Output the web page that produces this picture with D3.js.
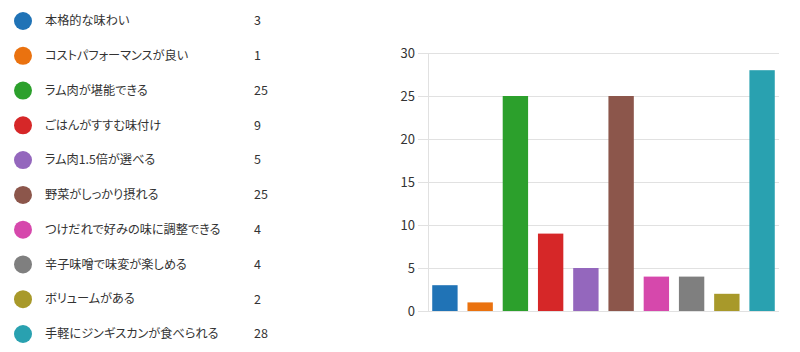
<!DOCTYPE html>
<html><head><meta charset="utf-8">
<script src="https://cdn.jsdelivr.net/npm/d3@7"></script>
<style>body{margin:0;background:#fff;}svg{display:block;}text{font-feature-settings:"palt" 1;}</style>
</head><body>
<svg id="c" width="800" height="352"></svg>
<script>
const categories = ["本格的な味わい","コストパフォーマンスが良い","ラム肉が堪能できる","ごはんがすすむ味付け","ラム肉1.5倍が選べる","野菜がしっかり摂れる","つけだれで好みの味に調整できる","辛子味噌で味変が楽しめる","ボリュームがある","手軽にジンギスカンが食べられる"];
const values = [3,1,25,9,5,25,4,4,2,28];
const colors = ["#2073b6","#ea720f","#2ca02c","#d62728","#9467bd","#8c564b","#d648ac","#7f7f7f","#a8992a","#29a1b0"];
const yTicks = [0,5,10,15,20,25,30];

const svg = d3.select("#c");
const font = "'Noto Sans CJK JP','Noto Sans',sans-serif";

// Legend
const ly = d3.scalePoint().domain(categories).range([21, 334]);
const lg = svg.append("g");
categories.forEach((c,i)=>{
  const y = ly(c);
  lg.append("circle").attr("cx",23).attr("cy",y).attr("r",9).attr("fill",colors[i]);
  lg.append("text").attr("x",45).attr("y",y).attr("dy","0.35em").attr("font-family",font).attr("font-size",12.2).attr("fill","#333").text(c);
  lg.append("text").attr("x",254).attr("y",y).attr("dy","0.35em").attr("font-family",font).attr("font-size",12.5).attr("fill","#333").text(values[i]);
});

// Chart
const x = d3.scaleBand().domain(categories).range([428,779]).paddingInner(0.28).paddingOuter(0.12);
const y = d3.scaleLinear().domain([0,30]).range([311,53]);

const grid = svg.append("g");
grid.selectAll("line").data(yTicks).join("line")
  .attr("x1",418).attr("x2",779).attr("y1",d=>y(d)).attr("y2",d=>y(d))
  .attr("stroke","#e1e1e1").attr("stroke-width",1).attr("shape-rendering","crispEdges");
svg.append("line").attr("x1",428).attr("x2",428).attr("y1",y(30)).attr("y2",y(0))
  .attr("stroke","#e1e1e1").attr("shape-rendering","crispEdges");

const yAxis = d3.axisLeft(y).tickValues(yTicks).tickSize(0).tickPadding(0);
const ga = svg.append("g").attr("transform","translate(415,0)").call(yAxis);
ga.select(".domain").remove();
ga.selectAll("text").attr("font-family",font).attr("font-size",13).attr("fill","#333");

svg.append("g").selectAll("rect").data(values).join("rect")
  .attr("x",(d,i)=>x(categories[i])).attr("width",x.bandwidth())
  .attr("y",d=>y(d)).attr("height",d=>y(0)-y(d))
  .attr("fill",(d,i)=>colors[i]);
</script>
</body></html>
